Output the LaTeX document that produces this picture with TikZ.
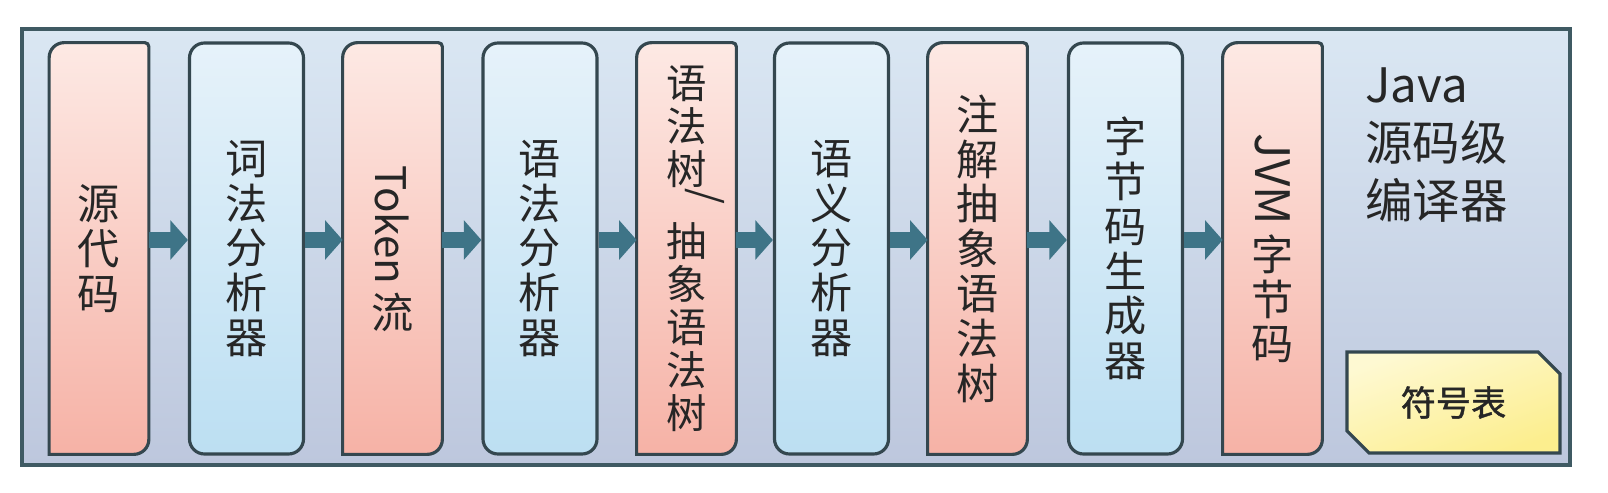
\documentclass[tikz,border=0pt]{standalone}
\usepackage{fontspec}
\newfontfamily\cjk{Noto Sans CJK SC}
\newfontfamily\cjkbold[FakeBold=1.2]{Noto Sans CJK SC}
\usepackage{graphicx}
\usetikzlibrary{arrows.meta,shapes.misc,backgrounds}
\definecolor{edgegray}{HTML}{34474F}
\definecolor{framegray}{HTML}{3F5A63}
\definecolor{frameTop}{HTML}{DAE7F3}
\definecolor{frameBot}{HTML}{BDC7DD}
\definecolor{redTop}{HTML}{FDE9E4}
\definecolor{redBot}{HTML}{F6B2A6}
\definecolor{blueTop}{HTML}{E6F2FA}
\definecolor{blueBot}{HTML}{BCDFF2}
\definecolor{yellowTop}{HTML}{FEF9D2}
\definecolor{yellowBot}{HTML}{FCEE8E}
\definecolor{arrowteal}{HTML}{3E7487}
\definecolor{textgray}{HTML}{262626}
\tikzstyle{stage}=[rectangle,minimum width=1.98cm,minimum height=8.22cm,inner sep=0pt,align=center,text=textgray,font=\cjk\fontsize{24}{25.5}\selectfont]
\tikzstyle{redstage}=[stage]
\tikzstyle{bluestage}=[stage,draw=edgegray,line width=1.8pt,rounded corners=0.3cm,minimum width=2.28cm,top color=blueTop,bottom color=blueBot]
\tikzstyle{redfill}=[draw=edgegray,line width=1.8pt,top color=redTop,bottom color=redBot]
\tikzstyle{frame}=[draw=framegray,line width=2pt,top color=frameTop,bottom color=frameBot]
\tikzstyle{flow}=[draw=arrowteal,line width=9pt,-{Triangle[width=22pt,length=10pt]}]
\tikzstyle{symbox}=[chamfered rectangle,chamfered rectangle corners={north east,south west},chamfered rectangle sep=0.22cm,draw=edgegray,line width=1.8pt,minimum width=4.26cm,minimum height=2.02cm,inner sep=0pt,top color=yellowBot,bottom color=yellowTop,shading angle=200,text=textgray,font=\cjkbold\fontsize{20}{22}\selectfont]
\tikzstyle{title}=[align=left,inner sep=0pt,text=textgray,font=\cjk\fontsize{27}{33}\selectfont]

\begin{document}
\begin{tikzpicture}
    \useasboundingbox (0,0) rectangle (32.16,9.84);

    % compiler stages, left to right
    \node[redstage]  (src)      at (1.98,4.87)  {源\\代\\码};
    \node[bluestage] (lexer)    at (4.93,4.87)  {词\\法\\分\\析\\器};
    \node[redstage]  (tokens)   at (7.85,4.87)  {\rotatebox{-90}{Token\,}\\流};
    \node[bluestage] (parser)   at (10.8,4.87)  {语\\法\\分\\析\\器};
    \node[redstage,font=\cjk\fontsize{23}{24.5}\selectfont] (ast) at (13.73,4.87)
        {语\\法\\树\\[-0.45em]\hspace*{0.9em}\rotatebox[origin=c]{-90}{/}\\[0.1em]抽\\象\\语\\法\\树};
    \node[bluestage] (sema)     at (16.63,4.87) {语\\义\\分\\析\\器};
    \node[redstage]  (annot)    at (19.55,4.87) {注\\解\\抽\\象\\语\\法\\树};
    \node[bluestage] (gen)      at (22.51,4.87) {字\\节\\码\\生\\成\\器};
    \node[redstage]  (bytecode) at (25.45,4.87)
        {\rotatebox{-90}{\fontsize{27}{27}\selectfont JVM\,}\\字\\节\\码};

    \node[title] (compiler) at (27.3,8.5) [anchor=north west] {Java\\源码级\\编译器};
    \node[symbox] (symtab) at (29.07,1.79) {符号表};

    \begin{scope}[on background layer]
        \draw[frame] (0.44,0.54) rectangle (31.4,9.26);
        \foreach \n in {src,tokens,ast,annot,bytecode}
            \draw[redfill] (\n.south west) -- ([yshift=-0.3cm]\n.north west)
                arc[start angle=180,end angle=90,radius=0.3cm]
                -- ([xshift=-0.08cm]\n.north east) arc[start angle=90,end angle=0,radius=0.08cm]
                -- ([yshift=0.3cm]\n.south east) arc[start angle=0,end angle=-90,radius=0.3cm]
                -- cycle;
    \end{scope}

    % data flow between stages
    \foreach \source/ \dest in {src/lexer, lexer/tokens, tokens/parser, parser/ast,
                                ast/sema, sema/annot, annot/gen, gen/bytecode}
        \draw[flow] ([yshift=0.17cm]\source.east) -- ([yshift=0.17cm]\dest.west);

\end{tikzpicture}
\end{document}
